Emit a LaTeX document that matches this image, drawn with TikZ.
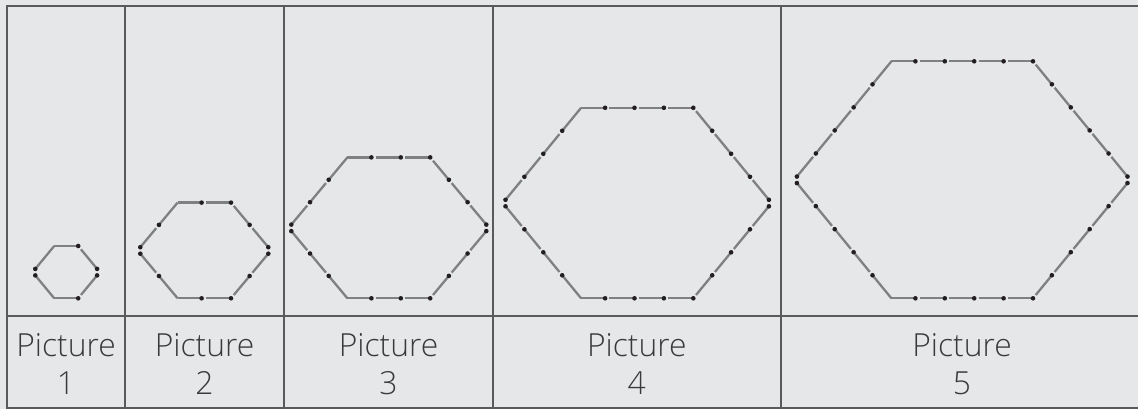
\documentclass[tikz,border=0pt]{standalone}
\usepackage{fontspec}
\setmainfont{Open Sans}[UprightFont=* Light]
\definecolor{bg}{HTML}{E6E7E8}
\definecolor{rule}{HTML}{5A5A5C}
\definecolor{stickc}{HTML}{7F8081}
\definecolor{dotc}{HTML}{231F20}
\definecolor{txt}{HTML}{3A3A3C}
\tikzset{
  stick/.style={draw=stickc, line width=2.3pt},
  rulel/.style={draw=rule, line width=2pt},
  lab/.style={anchor=base, inner sep=0pt, text=txt, font=\fontsize{31.8}{38}\selectfont}
}
% #1 centre x, #2 number of sticks per side, #3 slant dx, #4 slant dy
\newcommand{\hexpic}[4]{%
  \pgfmathsetmacro{\hW}{(24+29.4*(#2-1))/2}
  \pgfmathsetmacro{\hyt}{291.8-2*#4*#2}
  \pgfmathsetmacro{\hxl}{#1-\hW}
  \pgfmathsetmacro{\hxr}{#1+\hW}
  \pgfmathsetmacro{\hyu}{\hyt+#4*#2}
  \pgfmathsetmacro{\hyl}{\hyu+6.5}
  \pgfmathsetmacro{\hxvl}{\hxl-#3*#2}
  \pgfmathsetmacro{\hxvr}{\hxr+#3*#2}
  \foreach \k in {1,...,#2}{%
    \pgfmathsetmacro{\hxd}{\hxr-29.4*(#2-\k)}
    \pgfmathsetmacro{\hxs}{\k==1 ? \hxl : \hxd-29.4}
    \pgfmathsetmacro{\hsh}{\k==1 ? 0 : 4.3}
    \pgfmathsetmacro{\hse}{\k==#2 ? 0 : 4.3}
    \draw[stick, shorten <=\hsh pt] (\hxs,\hyt) -- (\hxd,\hyt);
    \draw[stick, shorten <=\hsh pt] (\hxs,298.3) -- (\hxd,298.3);
    \draw[stick, shorten <=4.3pt] (\hxr+#3*\k-#3,\hyt+#4*\k-#4) -- (\hxr+#3*\k,\hyt+#4*\k);
    \draw[stick, shorten >=4.3pt] (\hxvr-#3*\k+#3,\hyl+#4*\k-#4) -- (\hxvr-#3*\k,\hyl+#4*\k);
    \draw[stick, shorten >=\hse pt] (\hxvl+#3*\k-#3,\hyl+#4*\k-#4) -- (\hxvl+#3*\k,\hyl+#4*\k);
    \draw[stick, shorten >=\hse pt] (\hxvl+#3*\k-#3,\hyu-#4*\k+#4) -- (\hxvl+#3*\k,\hyu-#4*\k);
  }
  \foreach \k in {1,...,#2}{%
    \fill[dotc] (\hxr-29.4*#2+29.4*\k,\hyt) circle[radius=2.3pt];
    \fill[dotc] (\hxr-29.4*#2+29.4*\k,298.3) circle[radius=2.3pt];
    \fill[dotc] (\hxr+#3*\k,\hyt+#4*\k) circle[radius=2.3pt];
    \fill[dotc] (\hxvr-#3*\k+#3,\hyl+#4*\k-#4) circle[radius=2.3pt];
    \fill[dotc] (\hxvl+#3*\k-#3,\hyl+#4*\k-#4) circle[radius=2.3pt];
    \fill[dotc] (\hxvl+#3*\k-#3,\hyu-#4*\k+#4) circle[radius=2.3pt];
  }
}
\begin{document}
\begin{tikzpicture}[x=1pt,y=-1pt]
\useasboundingbox (0,0) rectangle (1138,409);
\fill[bg] (0,0) rectangle (1138,409);
% table rules
\coordinate (tl) at (7,6);
\coordinate (tr) at (1139,6);
\coordinate (ml) at (7,316);
\coordinate (mr) at (1139,316);
\coordinate (bl) at (7,407.5);
\coordinate (br) at (1139,407.5);
\draw[rulel] (tr) -- (tl) -- (bl) -- (br);
\draw[rulel] (ml) -- (mr);
\foreach \x/\nm in {125/a,284/b,493/c,780.5/d}{
  \coordinate (t\nm) at (\x,6);
  \coordinate (b\nm) at (\x,407.5);
  \draw[rulel] (t\nm) -- (b\nm);
}
% hexagons
\hexpic{66.2}{1}{18.9}{22.9}
\hexpic{204.3}{2}{18.65}{22.3}
\hexpic{388.8}{3}{18.7}{22.4}
\hexpic{637.2}{4}{18.9}{23}
\hexpic{962.2}{5}{18.9}{23.05}
% labels
\foreach \cx/\n in {66/1,204.5/2,388.5/3,636.8/4,962/5}{
  \node[lab] (p\n) at (\cx,356) {Picture};
  \node[lab] (n\n) at (\cx,394.3) {\n};
}
\end{tikzpicture}
\end{document}
